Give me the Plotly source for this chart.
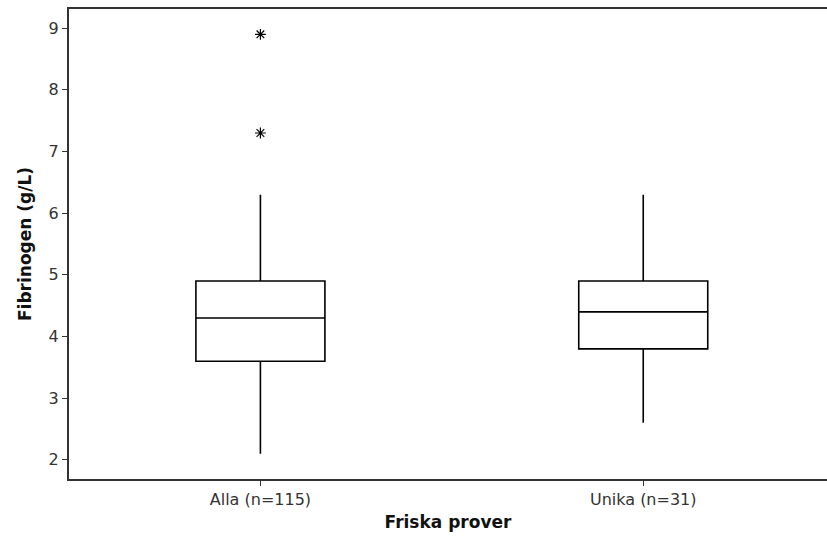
import plotly.graph_objects as go

# Fibrinogen summary per sample group
groups = ["Alla (n=115)", "Unika (n=31)"]
positions = [1, 2]
q1 = [3.6, 3.8]
median = [4.3, 4.4]
q3 = [4.9, 4.9]
lower_whisker = [2.1, 2.6]
upper_whisker = [6.3, 6.3]

# Outliers (only in the full group)
outlier_x = [1, 1]
outlier_y = [8.9, 7.3]

y_ticks = [2, 3, 4, 5, 6, 7, 8, 9]

FONT = "DejaVu Sans"

fig = go.Figure()

for i in range(len(groups)):
    fig.add_trace(go.Box(
        x=[positions[i]],
        q1=[q1[i]], median=[median[i]], q3=[q3[i]],
        lowerfence=[lower_whisker[i]], upperfence=[upper_whisker[i]],
        width=0.337,
        whiskerwidth=0,
        fillcolor="white",
        line=dict(color="black", width=1.6),
        boxpoints=False,
        hoverinfo="skip",
        showlegend=False,
    ))

fig.add_trace(go.Scatter(
    x=outlier_x, y=outlier_y, mode="markers",
    marker=dict(symbol="asterisk-open", size=9, color="black",
                line=dict(color="black", width=1.2)),
    showlegend=False, hoverinfo="skip",
))

fig.update_layout(
    width=827, height=540,
    margin=dict(l=69, r=0, t=9, b=61),
    paper_bgcolor="white", plot_bgcolor="white",
    font=dict(family=FONT, size=16, color="#333333"),
    xaxis=dict(
        range=[0.5, 2.48],
        tickmode="array", tickvals=positions, ticktext=groups,
        ticks="outside", ticklen=5, tickwidth=1, tickcolor="#333333",
        showline=True, mirror=True, linecolor="#333333", linewidth=2,
        showgrid=False, zeroline=False,
        title=dict(text="<b>Friska prover</b>", font=dict(family=FONT, size=17, color="#111111"), standoff=8),
        tickfont=dict(family=FONT, size=16, color="#333333"),
    ),
    yaxis=dict(
        range=[1.69, 9.31],
        tickmode="array", tickvals=y_ticks,
        ticks="outside", ticklen=5, tickwidth=1, tickcolor="#333333",
        showline=True, mirror=False, linecolor="#333333", linewidth=2,
        showgrid=False, zeroline=False,
        title=dict(text="<b>Fibrinogen (g/L)</b>", font=dict(family=FONT, size=17, color="#111111"), standoff=13),
        tickfont=dict(family=FONT, size=16, color="#333333"),
    ),
)

fig.write_html("out.html")
